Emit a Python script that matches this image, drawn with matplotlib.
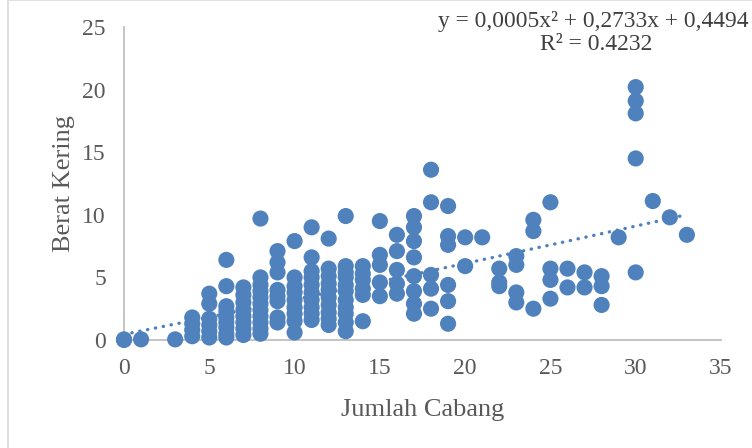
import matplotlib
matplotlib.use("Agg")
import matplotlib.pyplot as plt
import numpy as np
from matplotlib.patches import Rectangle

# Data: (Jumlah Cabang, Berat Kering)
jumlah_cabang = (
    [0, 0, 1, 3]
    + [4] * 4
    + [5] * 6
    + [6] * 9
    + [7] * 8
    + [8] * 11
    + [9] * 8
    + [10] * 9
    + [11] * 10
    + [12] * 10
    + [13] * 11
    + [14] * 6
    + [15] * 5
    + [16] * 5
    + [17] * 8
    + [18] * 5
    + [19] * 6
    + [20] * 2
    + [21]
    + [22] * 3
    + [23] * 4
    + [24] * 3
    + [25] * 4
    + [26] * 2
    + [27] * 2
    + [28] * 3
    + [29]
    + [30] * 5
    + [31, 32, 33]
)
berat_kering = (
    [0.0, 0.05, 0.05, 0.05]
    + [1.8, 1.3, 0.8, 0.3]
    + [3.7, 2.9, 1.7, 1.2, 0.7, 0.2]
    + [6.4, 4.3, 2.7, 2.3, 1.8, 1.4, 1.0, 0.5, 0.2]
    + [4.2, 3.6, 3.0, 2.4, 1.9, 1.4, 0.9, 0.4]
    + [9.7, 5.0, 4.4, 3.9, 3.4, 2.9, 2.4, 1.9, 1.4, 0.9, 0.5]
    + [7.1, 6.2, 5.4, 4.0, 3.5, 3.1, 1.8, 1.4]
    + [7.9, 5.0, 4.3, 3.8, 3.2, 2.6, 2.1, 1.5, 0.6]
    + [9.0, 6.6, 5.5, 5.0, 4.4, 3.8, 3.2, 2.6, 2.1, 1.6]
    + [8.1, 5.7, 5.1, 4.5, 4.0, 3.4, 2.8, 2.2, 1.7, 1.2]
    + [9.9, 5.9, 5.4, 5.0, 4.4, 3.9, 3.2, 2.6, 2.1, 1.4, 0.7]
    + [5.9, 5.3, 4.8, 4.1, 3.6, 1.5]
    + [9.5, 6.8, 6.0, 4.6, 3.5]
    + [8.4, 7.1, 5.6, 4.5, 3.7]
    + [9.9, 9.0, 7.9, 6.6, 5.1, 3.9, 2.9, 2.1]
    + [13.6, 11.0, 5.2, 4.1, 2.5]
    + [10.7, 8.3, 7.6, 4.4, 3.1, 1.3]
    + [8.2, 5.9]
    + [8.2]
    + [5.7, 4.6, 4.3]
    + [6.7, 6.0, 3.8, 3.0]
    + [9.6, 8.7, 2.5]
    + [11.0, 5.7, 4.8, 3.3]
    + [5.7, 4.2]
    + [5.4, 4.2]
    + [5.1, 4.3, 2.8]
    + [8.2]
    + [20.2, 19.1, 18.1, 14.5, 5.4]
    + [11.1, 9.8, 8.4]
)

# Trendline coefficients (from chart label)
coef_a, coef_b, coef_c = 0.0005, 0.2733, 0.4494
eq_label = "y = 0,0005x² + 0,2733x + 0,4494"
r2_label = "R² = 0.4232"

x_ticks = [0, 5, 10, 15, 20, 25, 30, 35]
y_ticks = [0, 5, 10, 15, 20, 25]

blue = "#4F81BD"
txt = "#595959"
axc = "#BFBFBF"
serif = ["Liberation Serif", "DejaVu Serif"]

fig = plt.figure(figsize=(7.52, 4.48), dpi=100)
fig.patches.append(Rectangle((7.5 / 752, -0.01), 1.1, 1.0 - 0.5 / 448 + 0.01,
                             transform=fig.transFigure, fill=False,
                             edgecolor="#D9D9D9", linewidth=1.2))

ax = fig.add_axes([124 / 752, (448 - 340) / 448, (721 - 124) / 752, (340 - 27) / 448])
ax.set_xlim(0, 35)
ax.set_ylim(0, 25)

ax.scatter(jumlah_cabang, berat_kering, s=135, color=blue, edgecolors="none",
           zorder=3, clip_on=False)

xt = np.linspace(0, 33, 200)
yt = coef_a * xt ** 2 + coef_b * xt + coef_c
ax.plot(xt, yt, color=blue, linewidth=2.4, linestyle=(0, (0.1, 2.3)),
        dash_capstyle="round", zorder=4)

for s in ["top", "right"]:
    ax.spines[s].set_visible(False)
for s in ["left", "bottom"]:
    ax.spines[s].set_color(axc)
    ax.spines[s].set_linewidth(1.3)
    ax.spines[s].set_zorder(2)

ax.set_xticks(x_ticks)
ax.set_yticks(y_ticks)
ax.tick_params(axis="x", length=0, pad=13, labelcolor=txt, labelsize=17)
ax.tick_params(axis="y", length=0, pad=13, labelcolor=txt, labelsize=17)
for lab in ax.get_xticklabels() + ax.get_yticklabels():
    lab.set_fontfamily(serif)

ax.set_xlabel("Jumlah Cabang", fontsize=19, color=txt, family=serif, labelpad=14)
ax.set_ylabel("Berat Kering", fontsize=19, color=txt, family=serif, labelpad=5)

fig.text(593 / 752, 1 - 21 / 448, eq_label, ha="center", va="center",
         fontsize=16.9, color="#404040", family=serif)
fig.text(596 / 752, 1 - 44 / 448, r2_label, ha="center", va="center",
         fontsize=17, color="#404040", family=serif)

fig.savefig("out.png", dpi=100)
